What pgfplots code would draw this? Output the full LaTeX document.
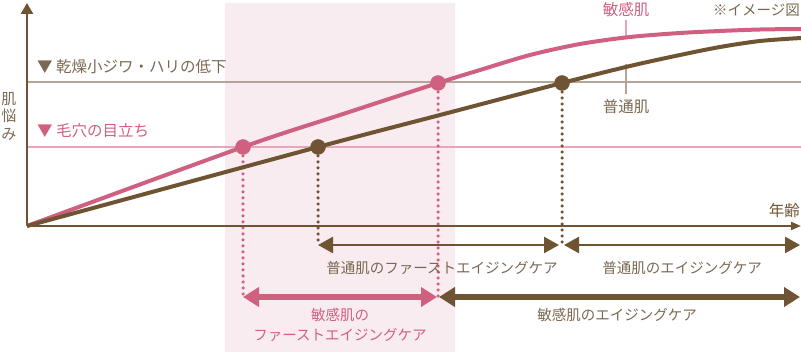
\documentclass[border=0pt]{standalone}
\usepackage{pgfplots}
\pgfplotsset{compat=1.18}
\usetikzlibrary{arrows.meta}
\usepackage{fontspec}
\setmainfont{Noto Sans CJK JP}
\definecolor{cbrown}{HTML}{6F5433}
\definecolor{cpink}{HTML}{D06080}
\definecolor{cband}{HTML}{F8ECF1}
\definecolor{chlone}{HTML}{B5A594}
\definecolor{chltwo}{HTML}{E9A5BB}
\definecolor{ctext}{HTML}{7A6852}
\begin{document}
\begin{tikzpicture}
\begin{axis}[at={(0pt,0pt)}, anchor=south west, width=801pt, height=352pt, scale only axis,
  xmin=0, xmax=801, ymin=0, ymax=352, y dir=reverse, hide axis, clip=false]
% band
\addplot[fill=cband, draw=none] coordinates {(225,3) (455,3) (455,352) (225,352) (225,3)};
% horizontal reference lines
\addplot[chlone, line width=2pt] coordinates {(27,82.5) (801,82.5)};
\addplot[chltwo, line width=1.5pt] coordinates {(27,147) (801,147)};
% leader lines
\addplot[chltwo, line width=1.5pt] coordinates {(626,20) (626,36)};
\addplot[chlone, line width=1.5pt] coordinates {(626,64) (626,94)};
% dotted drop lines
\addplot[cpink, line width=3.5pt, line cap=round, dash pattern=on 0pt off 6pt] coordinates {(243,150) (243,297)};
\addplot[cpink, line width=3.5pt, line cap=round, dash pattern=on 0pt off 6pt] coordinates {(438,86) (438,297)};
\addplot[cbrown, line width=3.5pt, line cap=round, dash pattern=on 0pt off 6pt] coordinates {(318,150) (318,245)};
\addplot[cbrown, line width=3.5pt, line cap=round, dash pattern=on 0pt off 6pt] coordinates {(562,86) (562,245)};
% axes
\addplot[cbrown, line width=2pt, -{Triangle[length=10pt,width=8pt]}] coordinates {(27,226) (801,226)};
\addplot[cbrown, line width=2.5pt, -{Triangle[length=11pt,width=12pt]}] coordinates {(27,226) (27,3)};
% curves
\addplot[cpink, line width=4pt, smooth, tension=0.5] coordinates {
 (27,226) (243,147) (340,115) (438,83) (480,70) (530,55) (580,44) (630,37) (680,33) (720,31) (760,29.5) (801,29)};
\addplot[cbrown, line width=4pt, smooth, tension=0.5] coordinates {
 (27,226) (318,147) (440,115) (562,83) (630,66) (680,55) (720,47) (760,41) (801,38)};
% points
\addplot[only marks, mark=*, mark size=7.5pt, cpink] coordinates {(243,147) (438,83)};
\addplot[only marks, mark=*, mark size=7.5pt, cbrown] coordinates {(318,147) (562,83)};
% arrows row 1
\addplot[cbrown, line width=2.5pt, {Triangle[length=15pt,width=16pt]}-{Triangle[length=15pt,width=16pt]}] coordinates {(318,245) (559,245)};
\addplot[cbrown, line width=2.5pt, {Triangle[length=15pt,width=16pt]}-{Triangle[length=15pt,width=16pt]}] coordinates {(564,245) (800,245)};
% arrows row 2
\addplot[cpink, line width=6pt, {Triangle[length=16pt,width=19pt]}-{Triangle[length=16pt,width=19pt]}] coordinates {(243,297) (437,297)};
\addplot[cbrown, line width=6pt, {Triangle[length=16pt,width=19pt]}-{Triangle[length=16pt,width=19pt]}] coordinates {(439,297) (800,297)};
% texts
\node[anchor=west, text=ctext, font=\fontsize{15.5}{18}\selectfont, inner sep=0pt] at (axis cs:37,67) {▼ 乾燥小ジワ・ハリの低下};
\node[anchor=west, text=cpink, font=\fontsize{15.5}{18}\selectfont, inner sep=0pt] at (axis cs:37,131) {▼ 毛穴の目立ち};
\node[text=ctext, font=\fontsize{15}{17.5}\selectfont, align=center, inner sep=0pt] at (axis cs:9,116) {肌\\悩\\み};
\node[text=cpink, font=\fontsize{15.5}{18}\selectfont, inner sep=0pt] at (axis cs:626,10) {敏感肌};
\node[text=ctext, font=\fontsize{15.5}{18}\selectfont, inner sep=0pt] at (axis cs:626,107) {普通肌};
\node[anchor=east, text=ctext, font=\fontsize{14.5}{18}\selectfont, inner sep=0pt] at (axis cs:800,10) {※イメージ図};
\node[anchor=east, text=cbrown, font=\fontsize{15.5}{18}\selectfont, inner sep=0pt] at (axis cs:800,211) {年齢};
\node[text=ctext, font=\fontsize{14.5}{18}\selectfont, inner sep=0pt] at (axis cs:442,268) {普通肌のファーストエイジングケア};
\node[text=ctext, font=\fontsize{14.5}{18}\selectfont, inner sep=0pt] at (axis cs:682,268) {普通肌のエイジングケア};
\node[text=cpink, font=\fontsize{14.5}{20}\selectfont, align=center, inner sep=0pt] at (axis cs:340,325) {敏感肌の\\ファーストエイジングケア};
\node[text=ctext, font=\fontsize{14.5}{18}\selectfont, inner sep=0pt] at (axis cs:617,315) {敏感肌のエイジングケア};
\end{axis}
\pgfresetboundingbox
\path[use as bounding box] (0,0) rectangle (801pt,352pt);
\end{tikzpicture}
\end{document}
